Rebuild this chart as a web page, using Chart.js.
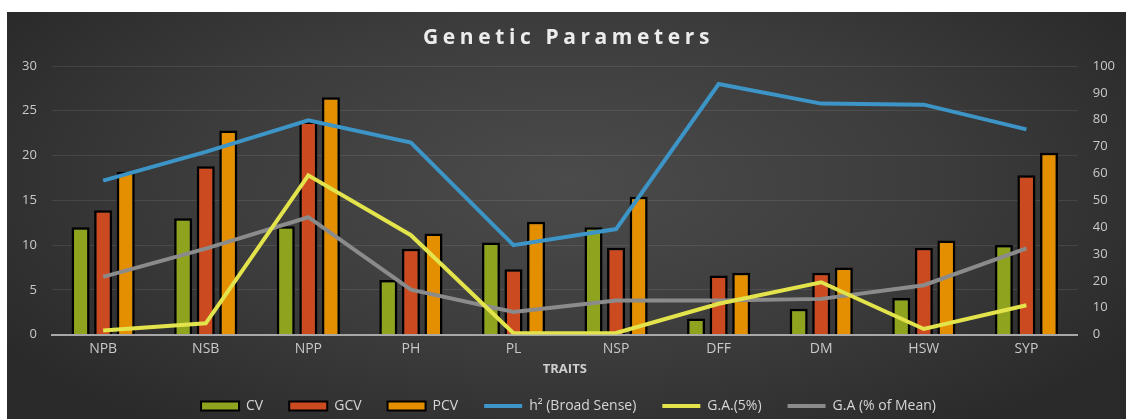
<!DOCTYPE html>
<html>
<head>
<meta charset="utf-8">
<script src="https://cdn.jsdelivr.net/npm/chart.js@4.4.1/dist/chart.umd.min.js"></script>
<style>
    html, body { margin: 0; padding: 0; background: #fff; }
    body { width: 1126px; height: 419px; position: relative; overflow: hidden; }
    #panel {
        position: absolute; left: 7px; top: 12px; width: 1119px; height: 407px;
        background: radial-gradient(ellipse 60% 75% at 50% 42%, #4b4b4b 0%, #3c3c3c 55%, #2a2a2a 100%);
    }
    #titulo {
        position: absolute; left: 4px; right: 0; top: 10px; text-align: center;
        font-family: "Open Sans", sans-serif; font-weight: 700; font-size: 21px;
        letter-spacing: 4.6px; color: #ececec;
    }
    #chartBox { position: absolute; left: 0; top: 0; width: 1119px; height: 407px; }
</style>
</head>
<body>
<div id="panel">
    <div id="chartBox"><canvas id="grafico"></canvas></div>
    <div id="titulo">Genetic Parameters</div>
</div>
<script>
// dados
const traits = ['NPB', 'NSB', 'NPP', 'PH', 'PL', 'NSP', 'DFF', 'DM', 'HSW', 'SYP'];
const cv = [12.0, 13.0, 12.1, 6.1, 10.3, 12.0, 1.8, 2.9, 4.1, 10.0];
const gcv = [13.9, 18.8, 23.8, 9.6, 7.3, 9.7, 6.6, 6.9, 9.7, 17.8];
const pcv = [18.2, 22.8, 26.5, 11.3, 12.6, 15.4, 6.9, 7.5, 10.5, 20.3];
const h2 = [57.3, 68.0, 79.8, 71.5, 33.3, 39.3, 93.3, 86.0, 85.6, 76.4];
const ga5 = [1.5, 4.2, 59.3, 37.0, 0.5, 0.6, 11.5, 19.5, 2.1, 10.9];
const gaMean = [21.5, 32.0, 43.7, 16.7, 8.4, 12.7, 12.7, 13.3, 18.4, 32.1];
const leftTicks = [0, 5, 10, 15, 20, 25, 30];
const rightTicks = [0, 10, 20, 30, 40, 50, 60, 70, 80, 90, 100];

const fonte = 'Open Sans';
const corTexto = '#c9c9c9';

function barra(label, data, cor) {
    return {
        type: 'bar', label, data, yAxisID: 'y', order: 1,
        backgroundColor: cor, borderColor: '#000', borderWidth: 2.5,
        categoryPercentage: 0.66, barPercentage: 0.8
    };
}

function linha(label, data, cor) {
    return {
        type: 'line', label, data, yAxisID: 'y1', order: 0,
        borderColor: cor, backgroundColor: cor, borderWidth: 4,
        pointRadius: 0, tension: 0, fill: false
    };
}

const ctx = document.getElementById('grafico').getContext('2d');
new Chart(ctx, {
    data: {
        labels: traits,
        datasets: [
            barra('CV', cv, '#8fa31f'),
            barra('GCV', gcv, '#cc4a1f'),
            barra('PCV', pcv, '#e38f00'),
            linha('h² (Broad Sense)', h2, '#3d94c6'),
            linha('G.A.(5%)', ga5, '#e3e34c'),
            linha('G.A (% of Mean)', gaMean, '#8b8b8b')
        ]
    },
    options: {
        responsive: true,
        maintainAspectRatio: false,
        animation: false,
        layout: { padding: { top: 54, left: 0, right: -4, bottom: -4 } },
        plugins: {
            title: { display: false },
            tooltip: { enabled: false },
            legend: {
                position: 'bottom',
                labels: {
                    color: '#d6d6d6',
                    font: { family: fonte, size: 14 },
                    usePointStyle: true,
                    pointStyleWidth: 38,
                    boxHeight: 9,
                    padding: 26,
                    sort: (a, b) => a.datasetIndex - b.datasetIndex,
                    generateLabels: chart => chart.data.datasets.map((ds, i) => {
                        const ehBarra = ds.type === 'bar';
                        return {
                            text: ds.label,
                            datasetIndex: i,
                            fillStyle: ds.backgroundColor,
                            strokeStyle: ehBarra ? '#000' : ds.borderColor,
                            lineWidth: ehBarra ? 2 : 4,
                            pointStyle: ehBarra ? 'rect' : 'line',
                            fontColor: '#d6d6d6',
                            hidden: false
                        };
                    })
                }
            }
        },
        scales: {
            x: {
                grid: { display: false, drawTicks: false },
                border: { display: true, color: '#a8a8a8', width: 2 },
                ticks: { color: corTexto, font: { family: fonte, size: 14 }, padding: 6 },
                title: {
                    display: true, text: 'TRAITS', color: '#cfcfcf',
                    font: { family: fonte, size: 13, weight: 'bold' }, padding: { top: -2, bottom: -4 }
                }
            },
            y: {
                position: 'left',
                min: 0, max: 30,
                afterBuildTicks: axis => { axis.ticks = leftTicks.map(v => ({ value: v })); },
                grid: { color: 'rgba(255,255,255,0.09)', drawTicks: false },
                border: { display: false },
                ticks: { color: corTexto, font: { family: fonte, size: 13 }, padding: 15 }
            },
            y1: {
                position: 'right',
                min: 0, max: 100,
                afterBuildTicks: axis => { axis.ticks = rightTicks.map(v => ({ value: v })); },
                grid: { display: false, drawTicks: false },
                border: { display: false },
                ticks: { color: corTexto, font: { family: fonte, size: 13 }, padding: 15 }
            }
        }
    }
});
</script>
</body>
</html>
